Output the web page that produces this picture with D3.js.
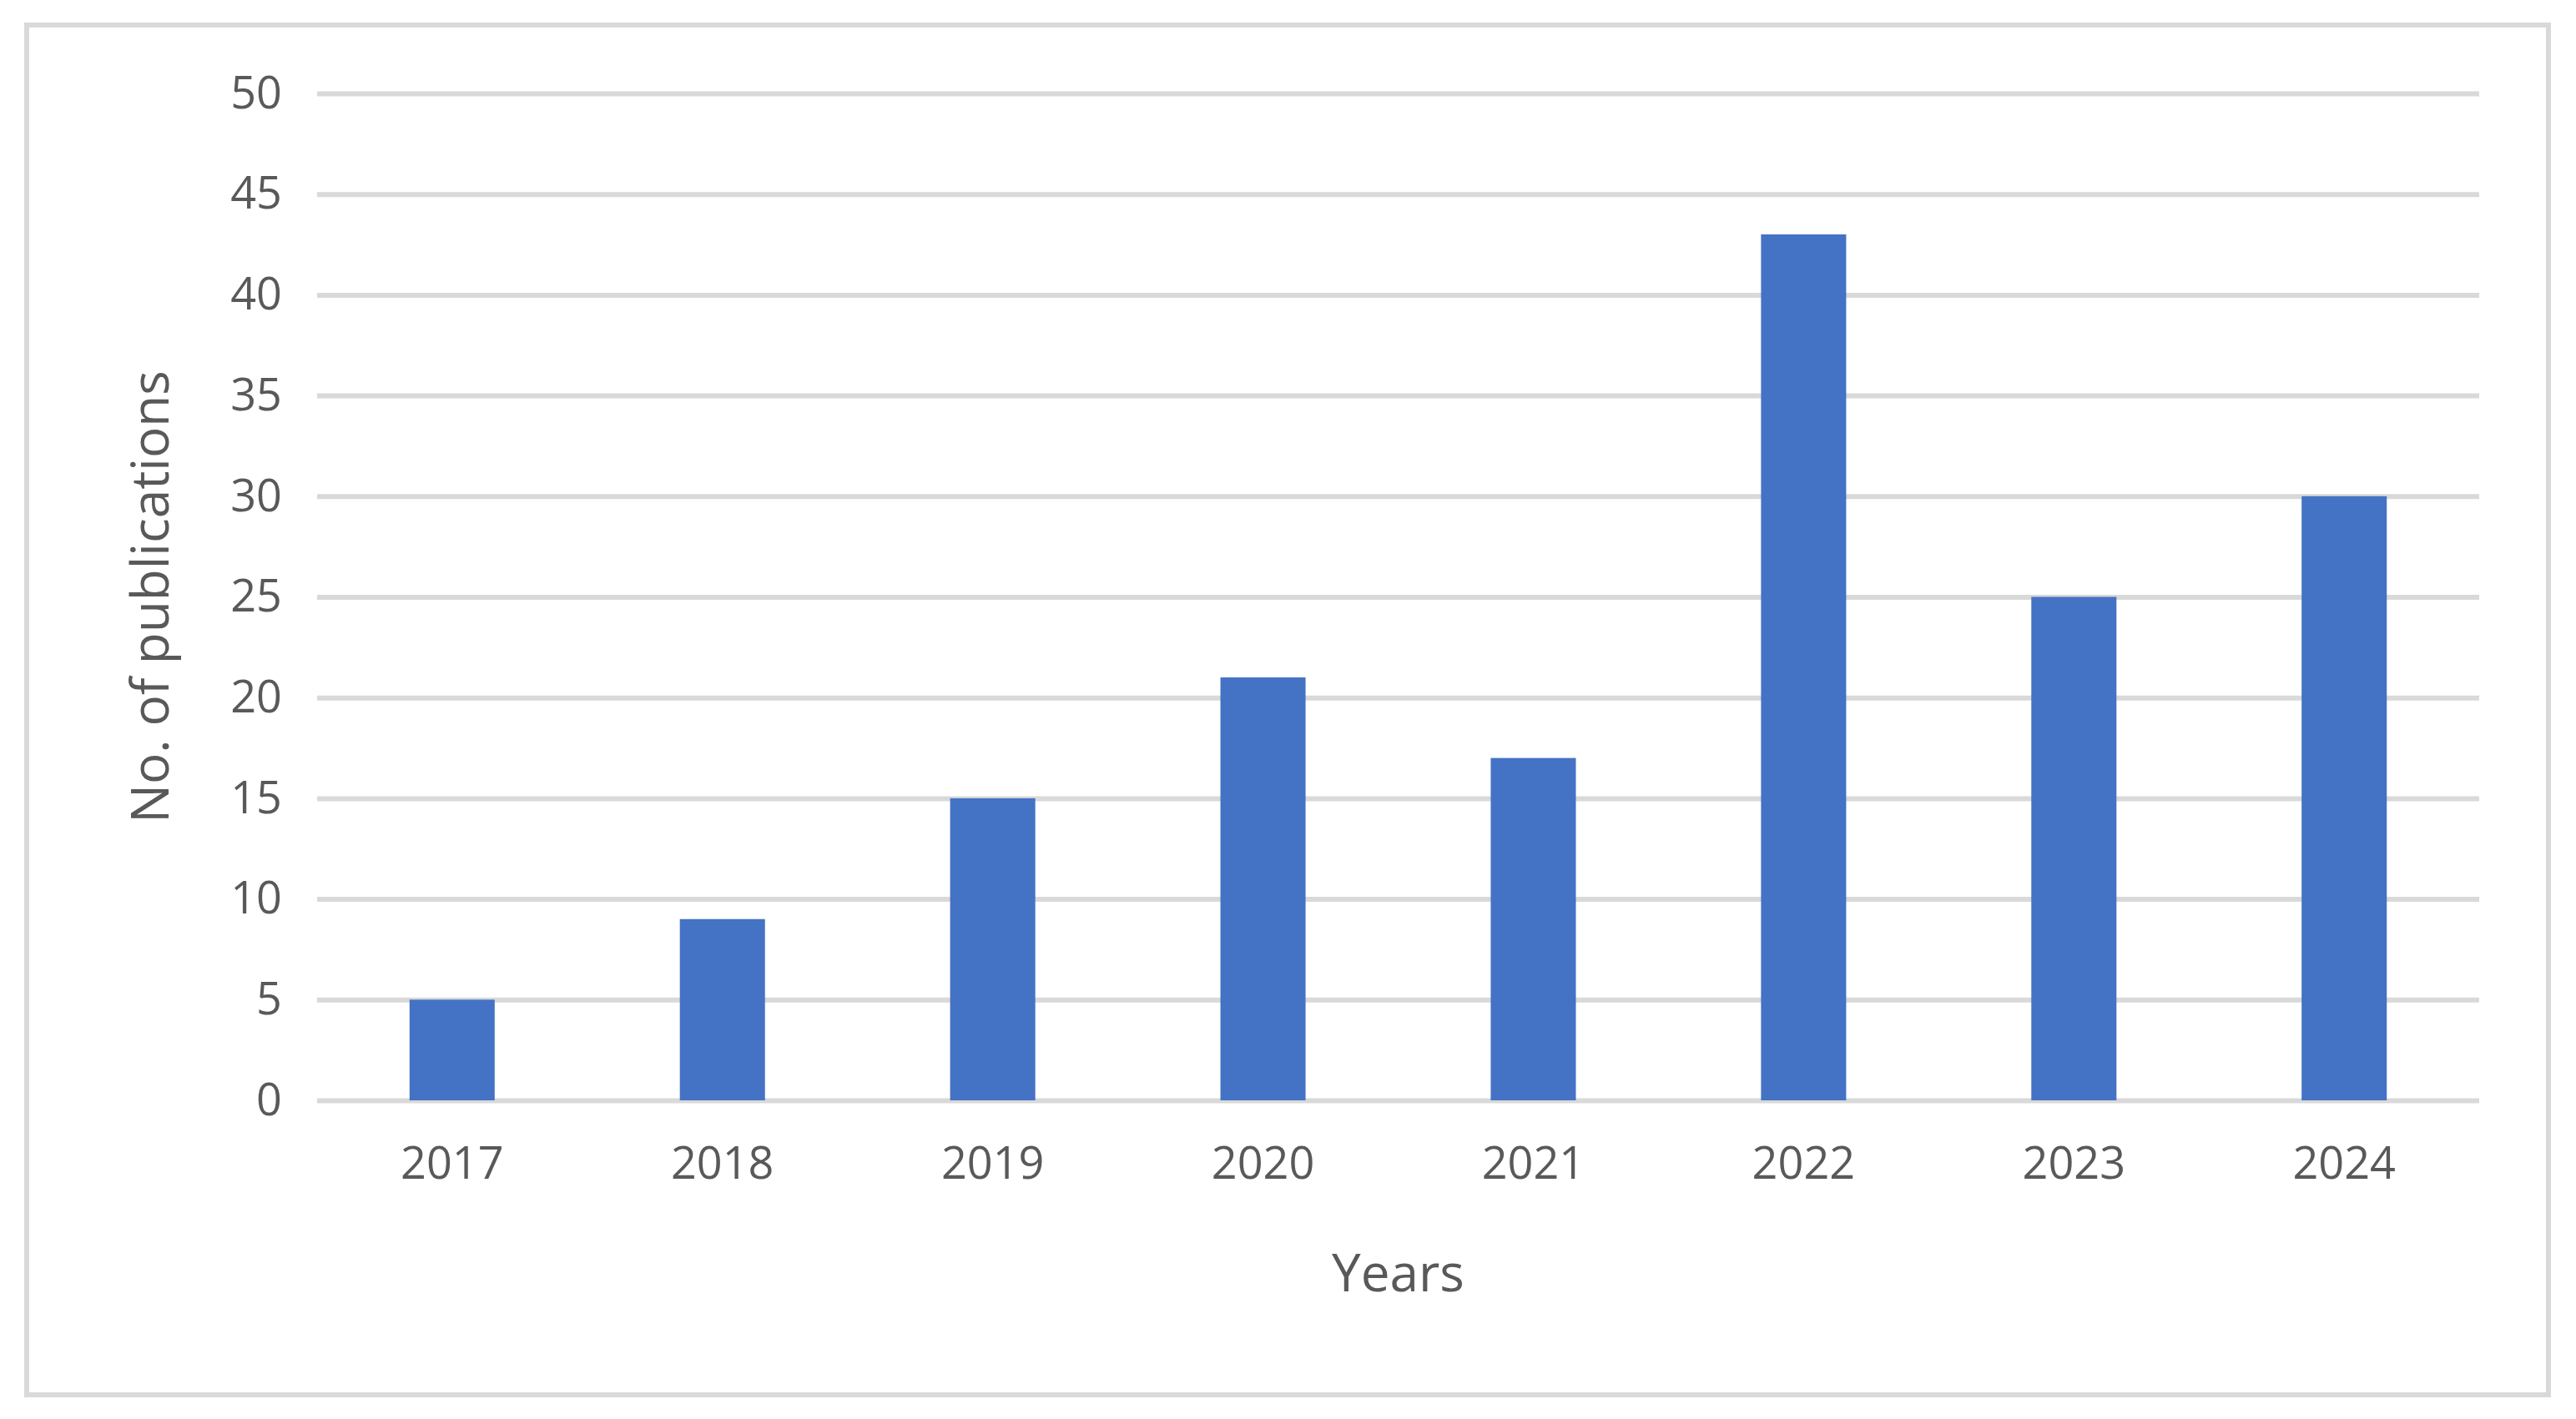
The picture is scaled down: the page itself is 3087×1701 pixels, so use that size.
<!DOCTYPE html>
<html>
<head>
<meta charset="utf-8">
<script src="https://cdn.jsdelivr.net/npm/d3@7"></script>
<style>
  body { margin: 0; background: #fff; }
  text { font-family: "Open Sans", sans-serif; fill: #595959; }
</style>
</head>
<body>
<svg id="chart"></svg>
<script>
const years = ['2017', '2018', '2019', '2020', '2021', '2022', '2023', '2024'];
const publications = [5, 9, 15, 21, 17, 43, 25, 30];
const yTicks = [0, 5, 10, 15, 20, 25, 30, 35, 40, 45, 50];

const width = 3087, height = 1701;
const margin = { left: 380, right: 116, top: 112, bottom: 382 };

const svg = d3.select('#chart').attr('width', width).attr('height', height);

// outer frame
svg.append('rect')
  .attr('x', 32).attr('y', 30).attr('width', 3022).attr('height', 1642)
  .attr('fill', 'none').attr('stroke', '#d9d9d9').attr('stroke-width', 6);

const xScale = d3.scaleBand()
  .domain(years)
  .range([margin.left, width - margin.right])
  .paddingInner(0.685).paddingOuter(0.342);

const yScale = d3.scaleLinear()
  .domain([0, 50])
  .range([height - margin.bottom, margin.top]);

// gridlines
const yAxis = d3.axisLeft(yScale).tickValues(yTicks)
  .tickSize(-(width - margin.left - margin.right)).tickPadding(42);
const gy = svg.append('g')
  .attr('transform', 'translate(' + margin.left + ',0)')
  .call(yAxis);
gy.select('.domain').remove();
gy.selectAll('line').attr('stroke', '#d9d9d9').attr('stroke-width', 6);
gy.selectAll('text').attr('font-size', 54).attr('fill', '#595959');

// bars
svg.append('g').selectAll('rect')
  .data(years)
  .join('rect')
  .attr('x', d => xScale(d))
  .attr('width', xScale.bandwidth())
  .attr('y', (d, i) => yScale(publications[i]))
  .attr('height', (d, i) => yScale(0) - yScale(publications[i]))
  .attr('fill', '#4472c4');

// x axis
const xAxis = d3.axisBottom(xScale).tickSize(0).tickPadding(56);
const gx = svg.append('g')
  .attr('transform', 'translate(0,' + yScale(0) + ')')
  .call(xAxis);
gx.select('.domain').remove();
gx.selectAll('text').attr('font-size', 54).attr('fill', '#595959');

// axis titles
svg.append('text')
  .attr('x', (margin.left + width - margin.right) / 2)
  .attr('y', 1548)
  .attr('text-anchor', 'middle')
  .attr('font-size', 62)
  .text('Years');

svg.append('text')
  .attr('transform', 'translate(202,' + yScale(25) + ') rotate(-90)')
  .attr('text-anchor', 'middle')
  .attr('font-size', 62)
  .text('No. of publications');
</script>
</body>
</html>
